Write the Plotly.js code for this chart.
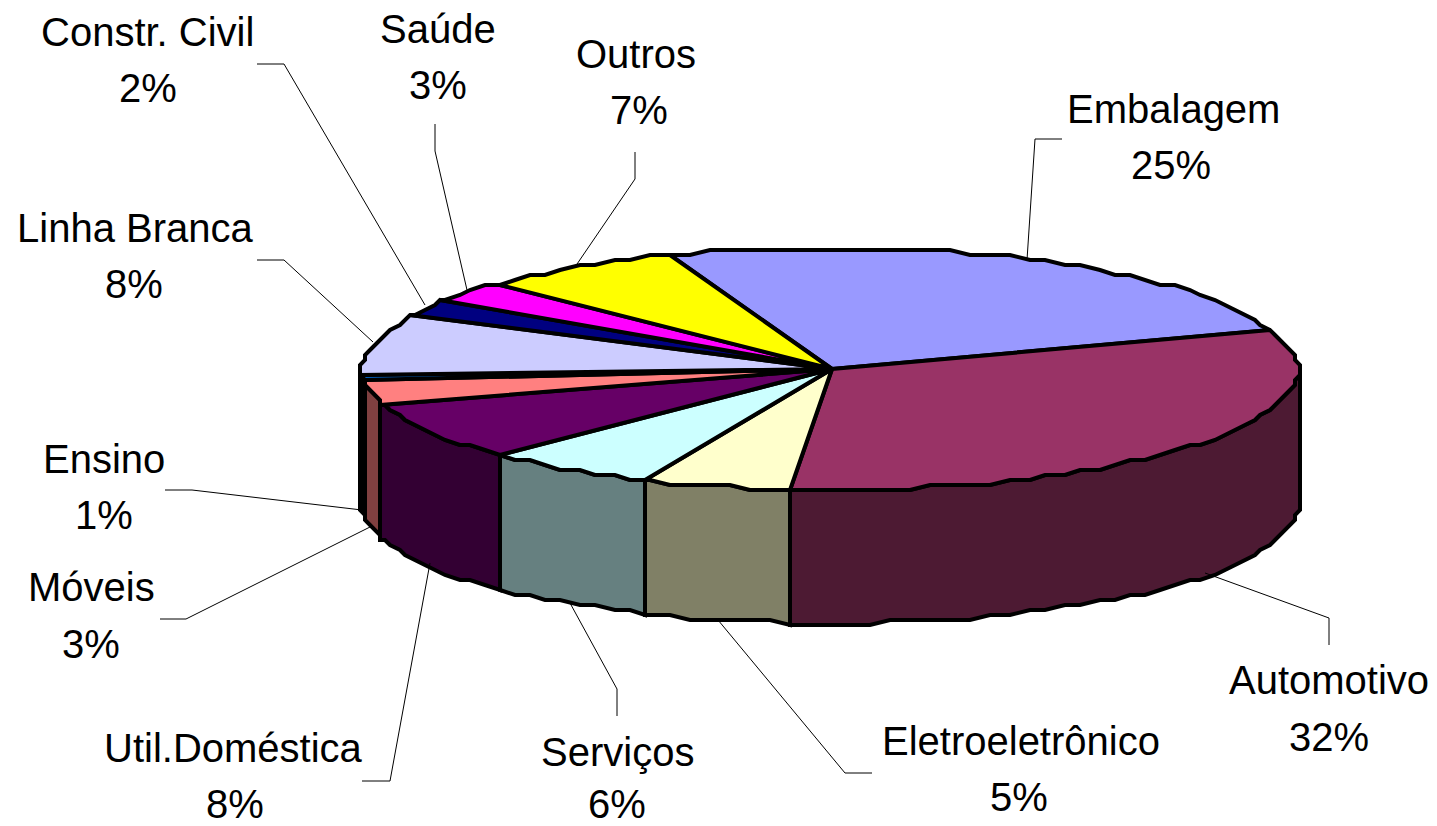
<!DOCTYPE html>
<html>
<head>
<meta charset="utf-8">
<script src="https://cdn.plot.ly/plotly-3.0.1.min.js"></script>
<style>html,body{margin:0;padding:0;background:#fff}#chart{width:1437px;height:826px}</style>
</head>
<body>
<div id="chart"></div>
<script>
// Data (clockwise from the first slice)
const categories = ['Embalagem','Automotivo','Eletroeletrônico','Serviços','Util.Doméstica','Móveis','Ensino','Linha Branca','Constr. Civil','Saúde','Outros'];
const shares = [25,32,5,6,8,3,1,8,2,3,7];
const topColors = ['#9999FF','#993366','#FFFFCC','#CCFFFF','#660066','#FF8080','#0066CC','#CCCCFF','#000080','#FF00FF','#FFFF00'];
const wallColors = ['#4D4D80','#4D1A33','#808066','#668080','#330033','#804040','#000000','#666680','#000040','#800080','#808000'];

// Layout
const FONT = 'Liberation Sans, Arial, sans-serif';
const FS = 40;
const nameAt = [[1173,109],[1329,680],[1021,741],[617,752],[233,748],[91,587],[104,459],[135,228],[147,32],[438,29],[636,54]];
const pctAt  = [[1171,165],[1329,737],[1019,797],[617,804],[235,804],[91,644],[104,515],[134,284],[148,88],[438,85],[639,110]];
const leaders = [
  [[1062,139],[1035,139],[1027,260]],
  [[1329,645],[1329,618],[1205,573]],
  [[872,773],[845,773],[718,620]],
  [[617,716],[617,689],[570,603]],
  [[362,781],[390,781],[430,563]],
  [[160,619],[186,619],[370,527]],
  [[165,490],[192,490],[362,510]],
  [[257,260],[284,260],[373,342]],
  [[257,64],[284,64],[425,305]],
  [[435,124],[435,151],[467,290]],
  [[635,152],[635,179],[575,267]]
];
const START = -20, CX = 830, RX = 468, TOPY = 369, TOPR = 121, BOTY = 507, BOTR = 116, STEP = 2.5, GX = 5, GY = 5;
const LW = 4;
const snap = (v, g) => Math.round(v / g) * g;
const pt = (a, cy, ry) => {
  const r = a * Math.PI / 180;
  return [snap(CX + RX * Math.sin(r), GX), snap(cy - ry * Math.cos(r), GY)];
};
function arc(a0, a1) {
  const out = [a0];
  for (let a = Math.ceil(a0 / STEP + 1e-6) * STEP; a < a1 - 1e-6; a += STEP) out.push(a);
  out.push(a1);
  return out;
}
const total = shares.reduce((s, v) => s + v, 0);
const spans = [];
shares.reduce((acc, v) => { const n = acc + v / total * 360; spans.push([acc, n]); return n; }, START);

const traces = [];
// walls: only the front half of the cylinder is visible
spans.forEach(([a0, a1], i) => {
  const s = Math.max(a0, 90), e = Math.min(a1, 270);
  if (e <= s) return;
  const as = arc(s, e);
  const top = as.map(a => pt(a, TOPY, TOPR));
  const bot = as.slice().reverse().map(a => pt(a, BOTY, BOTR));
  const poly = top.concat(bot);
  poly.push(poly[0]);
  traces.push({type:'scatter', mode:'lines', name:categories[i], x:poly.map(p=>p[0]), y:poly.map(p=>p[1]),
    fill:'toself', fillcolor:wallColors[i], line:{color:'#000',width:LW}, hoverinfo:'skip'});
});
// top faces
spans.forEach(([a0, a1], i) => {
  const poly = [[CX + 2, TOPY]].concat(arc(a0, a1).map(a => pt(a, TOPY, TOPR)));
  poly.push(poly[0]);
  traces.push({type:'scatter', mode:'lines', name:categories[i], x:poly.map(p=>p[0]), y:poly.map(p=>p[1]),
    fill:'toself', fillcolor:topColors[i], line:{color:'#000',width:LW}, text:categories[i]+' '+shares[i]+'%', hoverinfo:'text'});
});
// leader lines
leaders.forEach((l, i) => {
  traces.push({type:'scatter', mode:'lines', x:l.map(p=>p[0]), y:l.map(p=>p[1]), line:{color:'#000',width:1}, hoverinfo:'skip'});
});

const annotations = [];
categories.forEach((c, i) => {
  annotations.push({x:nameAt[i][0], y:nameAt[i][1], text:c, showarrow:false, xanchor:'center', yanchor:'middle', font:{family:FONT,size:FS,color:'#000'}});
  annotations.push({x:pctAt[i][0], y:pctAt[i][1], text:shares[i]+'%', showarrow:false, xanchor:'center', yanchor:'middle', font:{family:FONT,size:FS,color:'#000'}});
});

Plotly.newPlot('chart', traces, {
  width:1437, height:826, margin:{l:0,r:0,t:0,b:0}, showlegend:false,
  paper_bgcolor:'#fff', plot_bgcolor:'#fff',
  xaxis:{range:[0,1437], visible:false, fixedrange:true},
  yaxis:{range:[826,0], visible:false, fixedrange:true},
  annotations
}, {displayModeBar:false});
</script>
</body>
</html>
